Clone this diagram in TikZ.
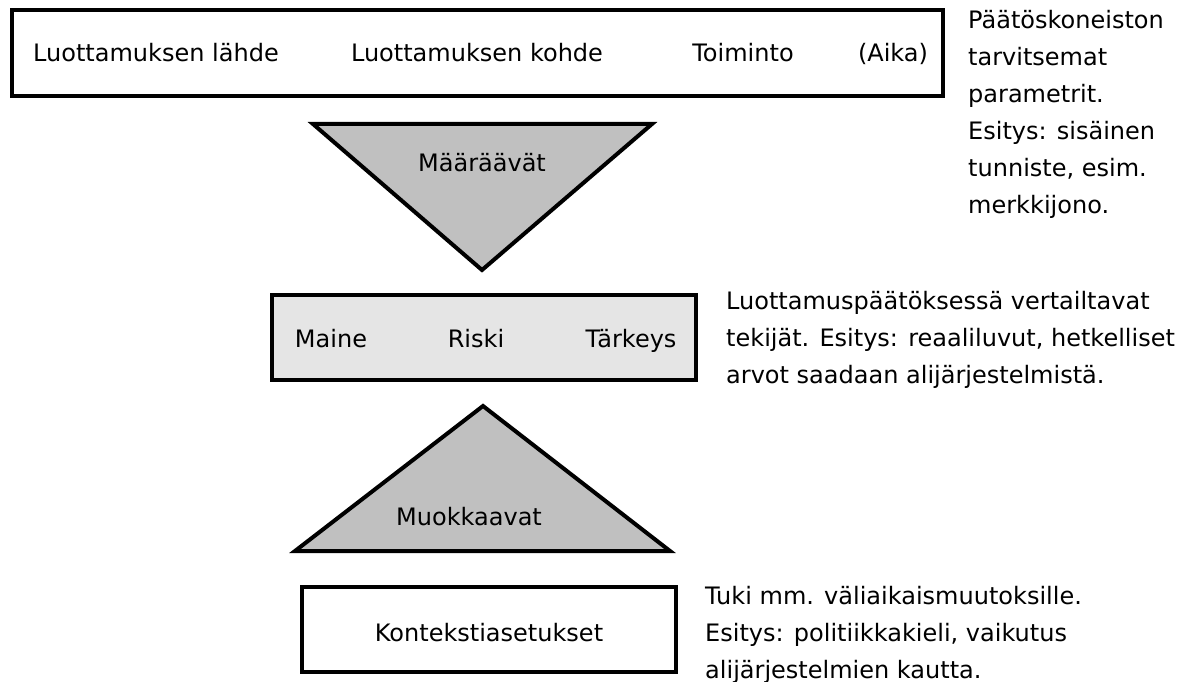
\documentclass[tikz,border=0pt]{standalone}
\usepackage{fontspec}
\setmainfont{DejaVu Sans}
\usepackage{xcolor}
\usetikzlibrary{positioning, calc}

\definecolor{trigray}{HTML}{C0C0C0}
\definecolor{boxgray}{HTML}{E5E5E5}

\begin{document}
\begin{tikzpicture}[
    x=1pt, y=-1pt,
    every node/.style={font=\fontsize{24}{37}\selectfont},
    frame/.style={draw, line width=4pt, inner sep=0pt},
    lbl/.style={inner sep=0pt, anchor=base},
    note/.style={inner sep=0pt, align=left, anchor=west},
    wedge/.style={draw, line width=4pt, line join=miter, fill=trigray}
  ]
  \useasboundingbox (0,0) rectangle (1180,682);
  % parameters
  \node[frame, minimum width=931pt, minimum height=86pt] (params) at (477.5,53) {};
  \node[lbl] (source) at (156,62) {Luottamuksen lähde};
  \node[lbl] (target) at (477,62) {Luottamuksen kohde};
  \node[lbl] (action) at (743,62) {Toiminto};
  \node[lbl] (time) at (893,62) {(Aika)};
  \node[note] (paramsnote) at (968,114) {Päätöskoneiston\\tarvitsemat\\parametrit.\\Esitys: sisäinen\\tunniste, esim.\\merkkijono.};
  % determine
  \draw[wedge] (313,124) -- (652,124) -- (482,270) -- cycle;
  \node[lbl] (determine) at (482,171) {Määräävät};
  % factors
  \node[frame, fill=boxgray, minimum width=424pt, minimum height=85pt] (factors) at (484,337.5) {};
  \node[lbl] (reputation) at (331,347) {Maine};
  \node[lbl] (risk) at (476,347) {Riski};
  \node[lbl] (importance) at (631,347) {Tärkeys};
  \node[note] (factorsnote) at (726,340) {Luottamuspäätöksessä vertailtavat\\tekijät. Esitys: reaaliluvut, hetkelliset\\arvot saadaan alijärjestelmistä.};
  % modify
  \draw[wedge] (483,406) -- (670,551) -- (295,551) -- cycle;
  \node[lbl] (modify) at (469,525) {Muokkaavat};
  % context
  \node[frame, minimum width=374pt, minimum height=85pt] (context) at (489,629.5) {};
  \node[lbl] (settings) at (489,641) {Kontekstiasetukset};
  \node[note] (contextnote) at (705,635) {Tuki mm. väliaikaismuutoksille.\\Esitys: politiikkakieli, vaikutus\\alijärjestelmien kautta.};
\end{tikzpicture}
\end{document}
